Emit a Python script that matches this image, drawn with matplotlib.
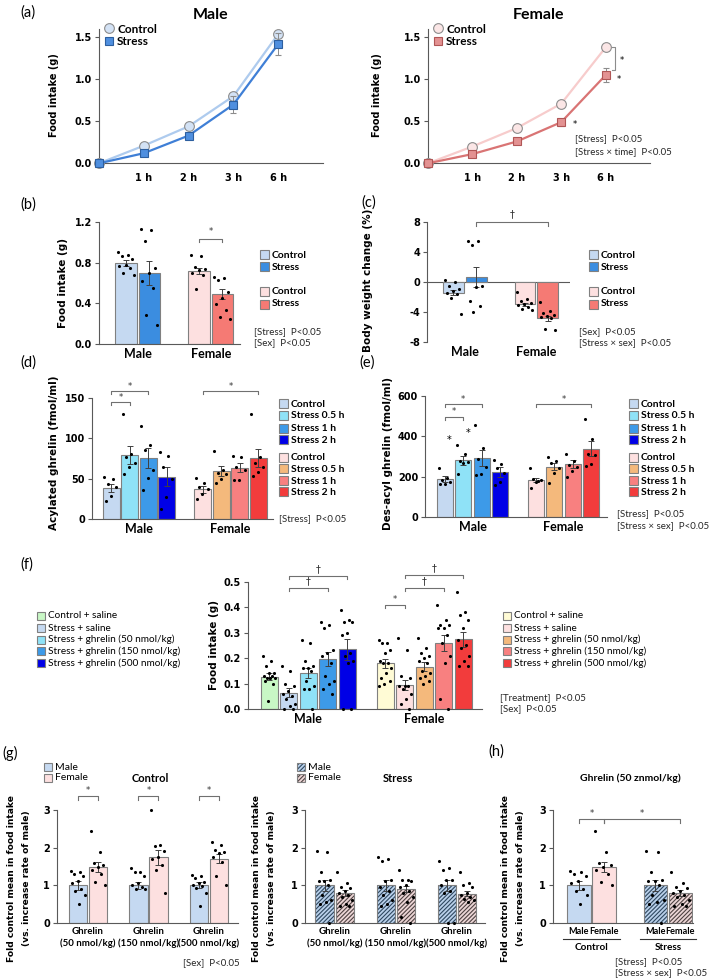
import numpy as np
import matplotlib
matplotlib.use("Agg")
import matplotlib.pyplot as plt
from matplotlib.patches import Rectangle
from matplotlib.lines import Line2D
from matplotlib.transforms import blended_transform_factory

W, H = 709, 980

plt.rcParams["font.family"] = ["DejaVu Sans"]
plt.rcParams["hatch.linewidth"] = 0.8

TXT = ["Lato", "DejaVu Sans"]
AXIS_GRAY = "#595959"
EDGE_GRAY = "#808080"
ERR_GRAY = "#404040"

# ---------------- data ----------------
sexes = ["Male", "Female"]

# (a) cumulative food intake
time_labels = ["1 h", "2 h", "3 h", "6 h"]
male_ctrl_time = [0, 0.21, 0.44, 0.80, 1.54]
male_ctrl_time_err = [0, 0.01, 0.02, 0.02, 0.03]
male_stress_time = [0, 0.12, 0.33, 0.70, 1.42]
male_stress_time_err = [0, 0.02, 0.04, 0.10, 0.13]
female_ctrl_time = [0, 0.20, 0.42, 0.71, 1.38]
female_ctrl_time_err = [0, 0.01, 0.01, 0.02, 0.03]
female_stress_time = [0, 0.11, 0.26, 0.49, 1.05]
female_stress_time_err = [0, 0.01, 0.02, 0.04, 0.08]

# (b) food intake
b_means = [0.80, 0.70, 0.72, 0.49]
b_err = [0.03, 0.115, 0.03, 0.05]
b_points = [
    [0.90, 0.88, 0.87, 0.84, 0.78, 0.77, 0.75, 0.70, 0.68],
    [1.13, 1.12, 1.01, 0.75, 0.70, 0.62, 0.55, 0.29, 0.19],
    [0.88, 0.87, 0.76, 0.74, 0.73, 0.70, 0.68, 0.54],
    [0.66, 0.65, 0.63, 0.51, 0.45, 0.39, 0.33, 0.27, 0.25],
]

# (c) body weight change
c_means = [-1.45, 0.68, -2.95, -4.86]
c_err = [0.35, 1.3, 0.2, 0.3]
c_points = [
    [0.2, 0.0, -0.5, -1.0, -1.2, -1.5, -1.6, -2.1, -4.3],
    [5.5, 5.4, 4.9, -0.5, -0.7, -2.5, -3.2, -4.0],
    [-1.3, -2.3, -2.6, -2.8, -3.0, -3.1, -3.3, -3.6, -3.7],
    [-2.7, -3.9, -4.2, -4.4, -4.5, -4.7, -4.8, -6.3, -6.4],
]

# (d) acylated ghrelin
time_groups = ["Control", "Stress 0.5 h", "Stress 1 h", "Stress 2 h"]
d_means = [37.9, 79.0, 75.7, 52.3, 36.6, 59.3, 63.8, 75.7]
d_err = [5, 11, 12, 12, 4, 6, 6, 11]
d_points = [
    [52, 50, 44, 40, 28, 22],
    [130, 80, 77, 70, 65, 56],
    [115, 92, 86, 61, 51, 36],
    [83, 78, 65, 50, 27, 12],
    [51, 45, 40, 37, 31, 25],
    [84, 61, 57, 56, 50, 45],
    [78, 77, 64, 61, 48, 48],
    [130, 77, 69, 64, 58, 53],
]

# (e) des-acyl ghrelin
e_means = [188.6, 281, 292.6, 223, 183.5, 249.6, 261, 339]
e_err = [15, 22, 40, 25, 12, 18, 20, 38]
e_points = [
    [245, 195, 185, 175, 165, 165],
    [355, 310, 280, 275, 270, 215],
    [455, 340, 290, 250, 215, 210],
    [285, 265, 245, 220, 175, 160],
    [245, 180, 190, 185, 175, 145],
    [300, 280, 270, 245, 220, 170],
    [310, 280, 260, 250, 230, 200],
    [485, 385, 310, 305, 265, 255],
]
e_star_values = [380, 415]

# (f) ghrelin injection
f_groups = ["Control + saline", "Stress + saline", "Stress + ghrelin (50 nmol/kg)",
            "Stress + ghrelin (150 nmol/kg)", "Stress + ghrelin (500 nmol/kg)"]
f_means = [0.127, 0.064, 0.142, 0.196, 0.234, 0.179, 0.094, 0.166, 0.258, 0.273]
f_err = [0.013, 0.017, 0.02, 0.028, 0.04, 0.016, 0.02, 0.017, 0.032, 0.028]
f_points = [
    [0.21, 0.19, 0.17, 0.14, 0.14, 0.13, 0.13, 0.12, 0.12, 0.12, 0.11, 0.10, 0.03],
    [0.17, 0.15, 0.10, 0.09, 0.07, 0.06, 0.05, 0.04, 0.02, 0.01, 0.0, 0.0],
    [0.27, 0.26, 0.19, 0.17, 0.16, 0.16, 0.15, 0.11, 0.09, 0.08, 0.08, 0.0],
    [0.34, 0.33, 0.32, 0.23, 0.22, 0.21, 0.18, 0.13, 0.11, 0.10, 0.08, 0.06],
    [0.39, 0.35, 0.34, 0.34, 0.30, 0.29, 0.22, 0.21, 0.19, 0.18, 0.0, 0.0],
    [0.27, 0.26, 0.26, 0.23, 0.22, 0.19, 0.18, 0.18, 0.16, 0.14, 0.12, 0.11, 0.10, 0.09],
    [0.28, 0.23, 0.13, 0.12, 0.09, 0.09, 0.09, 0.08, 0.06, 0.04, 0.02, 0.0],
    [0.28, 0.24, 0.22, 0.21, 0.20, 0.19, 0.18, 0.15, 0.14, 0.13, 0.12, 0.11, 0.10],
    [0.41, 0.35, 0.33, 0.33, 0.32, 0.32, 0.29, 0.26, 0.21, 0.18, 0.04, 0.0],
    [0.46, 0.38, 0.37, 0.35, 0.32, 0.27, 0.25, 0.24, 0.21, 0.19, 0.17, 0.17],
]

# (g) fold change vs male, per dose
dose_labels = ["Ghrelin\n(50 nmol/kg)", "Ghrelin\n(150 nmol/kg)", "Ghrelin\n(500 nmol/kg)"]
g_ctrl_means = [1.0, 1.49, 1.0, 1.74, 1.0, 1.71]
g_ctrl_err = [0.12, 0.13, 0.10, 0.20, 0.08, 0.12]
g_ctrl_points = [
    [1.37, 1.35, 1.30, 1.25, 1.12, 1.05, 0.90, 0.85, 0.75, 0.50],
    [2.45, 1.88, 1.58, 1.55, 1.50, 1.42, 1.30, 1.10, 1.02],
    [1.45, 1.35, 1.35, 1.25, 1.05, 1.0, 0.95, 0.90, 0.90],
    [3.0, 2.08, 2.05, 1.90, 1.75, 1.70, 1.55, 1.40, 0.80],
    [1.28, 1.25, 1.20, 1.10, 1.05, 1.00, 0.98, 0.92, 0.80, 0.45],
    [2.15, 2.08, 1.95, 1.88, 1.85, 1.75, 1.62, 1.25, 1.02],
]
g_stress_means = [1.0, 0.80, 1.0, 0.90, 1.0, 0.78]
g_stress_err = [0.15, 0.08, 0.14, 0.08, 0.15, 0.07]
g_stress_points = [
    [1.92, 1.88, 1.35, 1.15, 1.12, 1.12, 1.0, 0.75, 0.60, 0.55, 0.50, 0.0],
    [1.35, 1.05, 0.95, 0.92, 0.85, 0.80, 0.75, 0.70, 0.60, 0.50, 0.45, 0.45],
    [1.75, 1.70, 1.65, 1.15, 1.12, 0.95, 0.85, 0.75, 0.60, 0.50, 0.45],
    [1.40, 1.15, 1.15, 1.12, 1.0, 0.95, 0.85, 0.80, 0.70, 0.55, 0.15, 0.0],
    [1.65, 1.45, 1.40, 1.15, 1.15, 1.0, 0.85, 0.80, 0.0, 0.0],
    [1.35, 1.05, 1.02, 0.95, 0.80, 0.75, 0.70, 0.65, 0.60, 0.55],
]

# (h) 50 nmol/kg, control vs stress
h_means = [g_ctrl_means[0], g_ctrl_means[1], g_stress_means[0], g_stress_means[1]]
h_err = [g_ctrl_err[0], g_ctrl_err[1], g_stress_err[0], g_stress_err[1]]
h_points = [g_ctrl_points[0], g_ctrl_points[1], g_stress_points[0], g_stress_points[1]]

# colours
BLUE_CTRL, BLUE_STRESS = "#c5d9f1", "#3b8de0"
PINK_CTRL, RED_STRESS = "#fde0e0", "#f57a74"
male_time_colors = ["#c5d9f1", "#8fe2f7", "#3d9ae8", "#0000e6"]
female_time_colors = ["#fde0e0", "#f4b97c", "#f88080", "#f23c3c"]
male_f_colors = ["#c8f7c5"] + male_time_colors
female_f_colors = ["#fffbd5"] + female_time_colors
HATCH_M_FACE, HATCH_M_LINE = "#b9d0ea", "#2f4860"
HATCH_F_FACE, HATCH_F_LINE = "#ecd6d6", "#4e4242"
HATCH = "////////"

fig = plt.figure(figsize=(W / 100, H / 100), dpi=100)


def px_axes(left, top, right, bottom):
    return fig.add_axes([left / W, 1 - bottom / H, (right - left) / W, (bottom - top) / H])


def fx(x):
    return x / W


def fy(y):
    return 1 - y / H


def style(ax, ylim, yticks, ylabels, xlim):
    ax.set_xlim(*xlim)
    ax.set_ylim(*ylim)
    ax.set_yticks(yticks)
    ax.set_yticklabels(ylabels, fontsize=7, fontweight="bold")
    for s in ["top", "right"]:
        ax.spines[s].set_visible(False)
    for s in ["left", "bottom"]:
        ax.spines[s].set_color(AXIS_GRAY)
        ax.spines[s].set_linewidth(0.8)
    ax.tick_params(axis="y", length=3, width=0.8, color=AXIS_GRAY, pad=2)
    ax.tick_params(axis="x", length=0, pad=3)
    ax.patch.set_alpha(0)


def spread(n, width):
    idx = np.arange(n)
    return ((idx * 0.618034) % 1 - 0.5) * width * 0.8


def bar_x(k, per_group, pitch):
    g, i = divmod(k, per_group)
    return g + (i - (per_group - 1) / 2) * pitch


def draw_bars(ax, means, errs, points, colors, per_group, pitch, width,
              hatch_lines=None):
    for k in range(len(means)):
        x = bar_x(k, per_group, pitch)
        if hatch_lines is not None and hatch_lines[k] is not None:
            ax.bar(x, means[k], width, color=colors[k], edgecolor=hatch_lines[k],
                   hatch=HATCH, linewidth=0, zorder=2)
            ax.bar(x, means[k], width, fill=False, edgecolor=EDGE_GRAY,
                   linewidth=0.8, zorder=2.1)
        else:
            ax.bar(x, means[k], width, color=colors[k], edgecolor=EDGE_GRAY,
                   linewidth=0.8, zorder=2)
        pts = np.asarray(points[k])
        ax.scatter(x + spread(len(pts), width), pts, s=5, color="black",
                   linewidths=0, zorder=4, clip_on=False)
        ax.errorbar(x, means[k], yerr=errs[k], color=ERR_GRAY, lw=0.7,
                    capsize=2.2, capthick=0.7, zorder=3)


def bracket(ax, x1, x2, y, drop, mark, gap, size=6):
    ax.plot([x1, x1, x2, x2], [y - drop, y, y, y - drop], color="#707070",
            lw=0.8, clip_on=False, zorder=5)
    ax.text((x1 + x2) / 2, y + gap, mark, ha="center", va="center",
            fontsize=size, color="#333333", clip_on=False)


def legend_boxes(x, ys, labels, colors, size=9, fontsize=7.5, weight="bold",
                 hatch_lines=None):
    for k, (y, lab, col) in enumerate(zip(ys, labels, colors)):
        if hatch_lines is not None:
            fig.add_artist(Rectangle((fx(x), fy(y + size / 2)), size / W, size / H,
                                     transform=fig.transFigure, facecolor=col,
                                     edgecolor=hatch_lines[k], hatch=HATCH, lw=0))
            fig.add_artist(Rectangle((fx(x), fy(y + size / 2)), size / W, size / H,
                                     transform=fig.transFigure, fill=False,
                                     edgecolor=EDGE_GRAY, lw=0.8))
        else:
            fig.add_artist(Rectangle((fx(x), fy(y + size / 2)), size / W, size / H,
                                     transform=fig.transFigure, facecolor=col,
                                     edgecolor=EDGE_GRAY, lw=0.8))
        fig.text(fx(x + size + 3), fy(y), lab, ha="left", va="center",
                 fontsize=fontsize, fontweight=weight, family=TXT)


def stats_text(x, ys, lines):
    for y, line in zip(ys, lines):
        fig.text(fx(x), fy(y), line, ha="left", va="center", fontsize=7,
                 family=TXT, color="#262626")


def ylabel(x, y, text, size=7.5):
    fig.text(fx(x), fy(y), text, rotation=90, ha="center", va="center",
             fontsize=size, fontweight="bold", multialignment="center",
             linespacing=1.9)


def panel_label(x, y, text):
    fig.text(fx(x), fy(y), text, ha="left", va="center", fontsize=10.5, family=TXT)


def cat_labels(ax, labels, size=9):
    ax.set_xticks(range(len(labels)))
    ax.set_xticklabels(labels, fontsize=size, fontweight="bold", family=TXT)


# ---------------- (a) time course ----------------
time_x = np.arange(len(male_ctrl_time))
time_cfg = [
    (99, 323, male_ctrl_time, male_ctrl_time_err, male_stress_time, male_stress_time_err,
     ("#aecbee", "#d3e2f5", "#8c8c8c"), ("#3f7fd6", "#4f8fdf", "#2d5f9f"), "Male"),
    (428, 650, female_ctrl_time, female_ctrl_time_err, female_stress_time, female_stress_time_err,
     ("#f7cccc", "#fbe6e6", "#8c8c8c"), ("#d97474", "#e39292", "#b05656"), "Female"),
]
time_axes = []
for left, right, cm, ce, sm, se, cc, sc, title in time_cfg:
    ax = px_axes(left, 29, right, 163.3)
    style(ax, (0, 1.6), [0, 0.5, 1.0, 1.5], ["0.0", "0.5", "1.0", "1.5"], (0, 5))
    ax.set_xticks(time_x[1:])
    ax.set_xticklabels(time_labels, fontsize=7, fontweight="bold")
    ax.tick_params(axis="x", pad=7)
    ax.errorbar(time_x, cm, yerr=ce, color=cc[0], lw=1.6, marker="o", ms=7,
                mfc=cc[1], mec=cc[2], mew=0.8, ecolor="#8c8c8c", elinewidth=0.7,
                capsize=2, clip_on=False, zorder=3, label="Control")
    ax.errorbar(time_x, sm, yerr=se, color=sc[0], lw=1.6, marker="s", ms=6.3,
                mfc=sc[1], mec=sc[2], mew=0.8, ecolor="#8c8c8c", elinewidth=0.7,
                capsize=2, clip_on=False, zorder=4, label="Stress")
    handles = [Line2D([], [], ls="none", marker="o", ms=7, mfc=cc[1], mec=cc[2], mew=0.8),
               Line2D([], [], ls="none", marker="s", ms=6.3, mfc=sc[1], mec=sc[2], mew=0.8)]
    ax.legend(handles, ["Control", "Stress"], loc="upper left", bbox_to_anchor=(0.02, 1.04),
              frameon=False, handlelength=0.9, handletextpad=0.25, labelspacing=0.15,
              borderaxespad=0, borderpad=0, prop={"family": TXT, "weight": "bold", "size": 8.5})
    fig.text(fx((left + right) / 2), fy(15), title, ha="center", va="center",
             fontsize=11.5, fontweight="bold", family=TXT)
    time_axes.append(ax)

ax_af = time_axes[1]
ax_af.text(3.3, female_stress_time[3] - 0.03, "*", fontsize=6, ha="center", va="center")
ax_af.text(4.3, female_stress_time[4] - 0.05, "*", fontsize=6, ha="center", va="center")
ax_af.plot([4.14, 4.22, 4.22, 4.14], [female_ctrl_time[4], female_ctrl_time[4],
           female_stress_time[4] + 0.06, female_stress_time[4] + 0.06],
           color="#8c8c8c", lw=0.8, clip_on=False)
ax_af.text(4.37, 1.23, "*", fontsize=6, ha="center", va="center")
stats_text(575, [139, 152], ["[Stress]  P<0.05", "[Stress \u00d7 time]  P<0.05"])
ylabel(54, 95, "Food intake (g)", size=7)
ylabel(377, 95, "Food intake (g)", size=7)
panel_label(20, 13, "(a)")

# ---------------- (b) food intake ----------------
ax = px_axes(99, 222, 240, 344)
style(ax, (0, 1.2), [0, 0.4, 0.8, 1.2], ["0.0", "0.4", "0.8", "1.2"], (-0.53, 1.40))
draw_bars(ax, b_means, b_err, b_points, [BLUE_CTRL, BLUE_STRESS, PINK_CTRL, RED_STRESS],
          2, 0.32, 0.29)
cat_labels(ax, sexes)
bracket(ax, bar_x(2, 2, 0.32), bar_x(3, 2, 0.32), 1.03, 0.03, "*", 0.08)
legend_boxes(260, [255, 267], ["Control", "Stress"], [BLUE_CTRL, BLUE_STRESS])
legend_boxes(260, [292, 304], ["Control", "Stress"], [PINK_CTRL, RED_STRESS])
stats_text(254, [332, 343], ["[Stress]  P<0.05", "[Sex]  P<0.05"])
ylabel(63, 283, "Food intake (g)")
panel_label(20, 205, "(b)")

# ---------------- (c) body weight ----------------
ax = px_axes(427, 222, 570, 342)
style(ax, (-8, 8), [-8, -4, 0, 4, 8], ["-8", "-4", "0", "4", "8"], (-0.53, 1.47))
ax.spines["bottom"].set_visible(False)
ax.axhline(0, color=AXIS_GRAY, lw=0.8, zorder=1)
draw_bars(ax, c_means, c_err, c_points, [BLUE_CTRL, BLUE_STRESS, PINK_CTRL, RED_STRESS],
          2, 0.32, 0.29)
cat_labels(ax, sexes)
bracket(ax, bar_x(1, 2, 0.32), bar_x(3, 2, 0.32), 8.0, 0.5, "\u2020", 1.0, size=7)
legend_boxes(589, [255, 267], ["Control", "Stress"], [BLUE_CTRL, BLUE_STRESS])
legend_boxes(589, [292, 304], ["Control", "Stress"], [PINK_CTRL, RED_STRESS])
stats_text(579, [332, 343], ["[Sex]  P<0.05", "[Stress \u00d7 sex]  P<0.05"])
ylabel(368, 280, "Body weight change (%)")
panel_label(361, 203, "(c)")

# ---------------- (d) acylated ghrelin ----------------
ax = px_axes(92, 398, 273, 519)
style(ax, (0, 150), [0, 50, 100, 150], ["0", "50", "100", "150"], (-0.514, 1.464))
draw_bars(ax, d_means, d_err, d_points, male_time_colors + female_time_colors,
          4, 0.202, 0.186)
cat_labels(ax, sexes)
bracket(ax, bar_x(0, 4, 0.202), bar_x(1, 4, 0.202), 145, 4, "*", 6)
bracket(ax, bar_x(0, 4, 0.202), bar_x(2, 4, 0.202), 158.5, 4, "*", 6)
bracket(ax, bar_x(4, 4, 0.202), bar_x(7, 4, 0.202), 158.5, 4, "*", 6)
legend_boxes(279, [404, 416, 428, 440], time_groups, male_time_colors)
legend_boxes(279, [457, 469, 481, 492], time_groups, female_time_colors)
stats_text(279, [519], ["[Stress]  P<0.05"])
ylabel(54, 453, "Acylated ghrelin (fmol/ml)")
panel_label(20, 363, "(d)")

# ---------------- (e) des-acyl ghrelin ----------------
ax = px_axes(425, 396, 607, 517)
style(ax, (0, 600), [0, 200, 400, 600], ["0", "200", "400", "600"], (-0.522, 1.478))
draw_bars(ax, e_means, e_err, e_points, male_time_colors + female_time_colors,
          4, 0.201, 0.176)
cat_labels(ax, sexes)
for k, v in enumerate(e_star_values):
    ax.text(bar_x(k, 4, 0.201) + 0.05, v, "*", fontsize=7, ha="center", va="center")
bracket(ax, bar_x(0, 4, 0.201), bar_x(1, 4, 0.201), 497, 16, "*", 24)
bracket(ax, bar_x(0, 4, 0.201), bar_x(2, 4, 0.201), 560, 16, "*", 24)
bracket(ax, bar_x(4, 4, 0.201), bar_x(7, 4, 0.201), 560, 16, "*", 24)
legend_boxes(629, [404, 416, 428, 440], time_groups, male_time_colors)
legend_boxes(629, [457, 469, 481, 492], time_groups, female_time_colors)
stats_text(617, [514, 526], ["[Stress]  P<0.05", "[Stress \u00d7 sex]  P<0.05"])
ylabel(388, 453, "Des-acyl ghrelin (fmol/ml)")
panel_label(359, 363, "(e)")

# ---------------- (f) ghrelin injection ----------------
ax = px_axes(248, 581.7, 482, 709)
style(ax, (0, 0.5), [0, 0.1, 0.2, 0.3, 0.4, 0.5],
      ["0.0", "0.1", "0.2", "0.3", "0.4", "0.5"], (-0.52, 1.496))
draw_bars(ax, f_means, f_err, f_points, male_f_colors + female_f_colors, 5, 0.168, 0.147)
cat_labels(ax, sexes)
bracket(ax, bar_x(1, 5, 0.168), bar_x(3, 5, 0.168), 0.476, 0.013, "\u2020", 0.027, size=7)
bracket(ax, bar_x(1, 5, 0.168), bar_x(4, 5, 0.168), 0.523, 0.013, "\u2020", 0.027, size=7)
bracket(ax, bar_x(5, 5, 0.168), bar_x(6, 5, 0.168), 0.408, 0.013, "*", 0.022)
bracket(ax, bar_x(6, 5, 0.168), bar_x(8, 5, 0.168), 0.476, 0.013, "\u2020", 0.027, size=7)
bracket(ax, bar_x(6, 5, 0.168), bar_x(9, 5, 0.168), 0.528, 0.013, "\u2020", 0.027, size=7)
f_rows = [616, 628, 639.5, 651, 663]
legend_boxes(37, f_rows, f_groups, male_f_colors, size=8, fontsize=7.2, weight="normal")
legend_boxes(503, f_rows, f_groups, female_f_colors, size=8, fontsize=7.2, weight="normal")
stats_text(500, [698, 709], ["[Treatment]  P<0.05", "[Sex]  P<0.05"])
ylabel(214, 645, "Food intake (g)")
panel_label(20, 565, "(f)")

# ---------------- (g) fold change ----------------
fold_label = "Fold control mean in food intake\n(vs. increase rate of male)"
g_cfg = [
    (57, 238, (-0.512, 2.48), g_ctrl_means, g_ctrl_err, g_ctrl_points,
     [BLUE_CTRL, PINK_CTRL] * 3, None, "Control", 150, 19),
    (305, 485, (-0.49, 2.46), g_stress_means, g_stress_err, g_stress_points,
     [HATCH_M_FACE, HATCH_F_FACE] * 3, [HATCH_M_LINE, HATCH_F_LINE] * 3, "Stress", 398, 264),
]
g_axes = []
for left, right, xlim, means, errs, pts, cols, hl, title, tx, lx in g_cfg:
    ax = px_axes(left, 810, right, 923)
    style(ax, (0, 3), [0, 1, 2, 3], ["0", "1", "2", "3"], xlim)
    draw_bars(ax, means, errs, pts, cols, 2, 0.33, 0.306, hatch_lines=hl)
    ax.set_xticks(range(len(dose_labels)))
    ax.set_xticklabels(dose_labels, fontsize=6.9, fontweight="bold", family=TXT,
                       linespacing=1.3)
    fig.text(fx(tx), fy(778), title, ha="center", va="center", fontsize=8,
             fontweight="bold", family=TXT)
    ylabel(lx, 878, fold_label, size=6.6)
    g_axes.append(ax)
    legend_boxes(left - 13 if hl is None else left - 8, [767, 778], ["Male", "Female"],
                 cols[:2], size=8, fontsize=7.5, weight="normal", hatch_lines=hl)

for gi in range(3):
    bracket(g_axes[0], bar_x(2 * gi, 2, 0.33), bar_x(2 * gi + 1, 2, 0.33), 3.36, 0.1, "*", 0.17)
stats_text(183, [963], ["[Sex]  P<0.05"])
panel_label(2, 753, "(g)")

# ---------------- (h) 50 nmol/kg ----------------
ax = px_axes(553, 810, 693, 923)
style(ax, (0, 3), [0, 1, 2, 3], ["0", "1", "2", "3"], (-0.503, 1.327))
draw_bars(ax, h_means, h_err, h_points,
          [BLUE_CTRL, PINK_CTRL, HATCH_M_FACE, HATCH_F_FACE], 2, 0.327, 0.307,
          hatch_lines=[None, None, HATCH_M_LINE, HATCH_F_LINE])
ax.set_xticks([bar_x(k, 2, 0.327) for k in range(4)])
ax.set_xticklabels(sexes * 2, fontsize=6.6, fontweight="bold", family=TXT)
trans = blended_transform_factory(ax.transData, ax.transAxes)
for gi, name in enumerate(["Control", "Stress"]):
    ax.plot([gi - 0.37, gi + 0.37], [-0.145, -0.145], transform=trans, color="#333333",
            lw=0.8, clip_on=False)
    ax.text(gi, -0.215, name, transform=trans, ha="center", va="center", fontsize=7.2,
            fontweight="bold", family=TXT)
bracket(ax, bar_x(0, 2, 0.327), bar_x(1, 2, 0.327), 2.75, 0.1, "*", 0.17)
bracket(ax, bar_x(1, 2, 0.327), bar_x(3, 2, 0.327), 2.75, 0.1, "*", 0.17)
fig.text(fx(630), fy(778), "Ghrelin (50 znmol/kg)", ha="center", va="center",
         fontsize=7.5, fontweight="bold", family=TXT)
ylabel(513, 878, fold_label, size=6.6)
stats_text(615, [962, 973], ["[Stress]  P<0.05", "[Stress \u00d7 sex]  P<0.05"])
panel_label(488, 752, "(h)")

fig.savefig("out.png", dpi=100, facecolor="white")
